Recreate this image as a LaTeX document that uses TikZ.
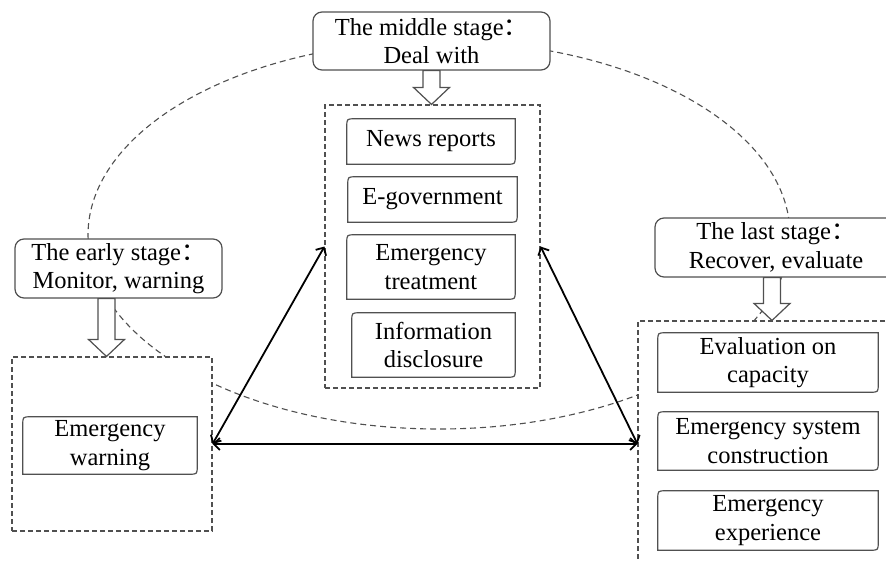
\documentclass[tikz,border=0pt]{standalone}
\usepackage{fontspec}
\setmainfont{Liberation Serif}
\newfontfamily\cjk{Noto Sans CJK SC}
\usetikzlibrary{arrows.meta, calc}

\definecolor{linegray}{HTML}{505050}
\newcommand{\fwcolon}{{\cjk ：}}

\begin{document}
\begin{tikzpicture}[x=1pt, y=-1pt]

\tikzset{txt/.style={align=center, inner sep=0, font=\fontsize{24.5}{28.5}\selectfont}}
\tikzset{stagebox/.style={txt, fill=white, shape=rectangle, draw=linegray, line width=1.2, rounded corners=9pt}}
\tikzset{itembox/.style={txt, fill=white, shape=rectangle}}
\tikzset{itemline/.style={draw=linegray, line width=1.2}}
\tikzset{stagegroup/.style={fill=white, draw=linegray, dash pattern=on 5pt off 3pt, line width=1.1}}
\tikzset{cycleline/.style={draw=linegray, dash pattern=on 6pt off 4pt, line width=1.1}}
\tikzset{twoway/.style={{Straight Barb[length=6pt,width=12pt]}-{Straight Barb[length=6pt,width=12pt]}, line width=1.8, black}}
\tikzset{hollow/.style={fill=white, draw=linegray, line width=1.2,
    to path={let \p1=(\tikztostart), \p2=(\tikztotarget) in
      (\x1-8.5pt,\y1) -- (\x1-8.5pt,\y2+17pt) -- (\x1-18pt,\y2+17pt) -- (\x1,\y2)
      -- (\x1+18pt,\y2+17pt) -- (\x1+8.5pt,\y2+17pt) -- (\x1+8.5pt,\y1) -- cycle}}}

\useasboundingbox (0,0) rectangle (886,562);

% stage cycle
\draw[cycleline] (439,235) ellipse [x radius=351, y radius=194];

\node[stagegroup, minimum width=215, minimum height=283] (midgroup) at (432.5,246.5) {};
\node[stagegroup, minimum width=200, minimum height=174] (earlygroup) at (112,444) {};
\node[stagegroup, minimum width=262, minimum height=259] (lastgroup) at (769,450.5) {};

\node[stagebox, minimum width=237, minimum height=58] (mid) at (431.5,41) {The middle stage\fwcolon\\Deal with};
\node[stagebox, minimum width=207, minimum height=59] (early) at (118.5,268.5) {The early stage\fwcolon\\Monitor, warning};
\node[stagebox, minimum width=242, minimum height=59] (last) at (776,247.5) {The last stage\fwcolon\\Recover, evaluate};

\node[itembox, minimum width=168, minimum height=45] (news) at (431,141.5) {News reports};
\node[itembox, minimum width=169, minimum height=45] (egov) at (432.5,199.5) {E-government};
\node[itembox, minimum width=168, minimum height=64] (treat) at (431,267) {Emergency\\treatment};
\node[itembox, minimum width=163, minimum height=64] (disc) at (433.5,345) {Information\\disclosure};
\node[itembox, minimum width=174, minimum height=57] (warn) at (110,445.5) {Emergency\\warning};
\node[itembox, minimum width=220, minimum height=59] (eval) at (768,362.5) {Evaluation on\\capacity};
\node[itembox, minimum width=220, minimum height=58] (build) at (768,441) {Emergency system\\construction};
\node[itembox, minimum width=220, minimum height=59] (exper) at (768,520.5) {Emergency\\experience};

\foreach \n in {news, egov, treat, disc, warn, eval, build, exper}
  \draw[itemline] ([xshift=8pt]\n.north west) -- (\n.north east) -- ([yshift=8pt]\n.south east)
    .. controls (\n.south east) .. ([xshift=-8pt]\n.south east) -- (\n.south west)
    -- ([yshift=-8pt]\n.north west) .. controls (\n.north west) .. ([xshift=8pt]\n.north west) -- cycle;

\draw[hollow] (mid.south) to (midgroup.north);
\draw[hollow] ([xshift=-12pt]early.south) to (earlygroup.north);
\draw[hollow] ([xshift=-4pt]last.south) to (lastgroup.north);

\draw[twoway] (earlygroup.east) -- (midgroup.west);
\draw[twoway] (midgroup.east) -- (lastgroup.west |- earlygroup.east);
\draw[twoway] (earlygroup.east) -- (lastgroup.west |- earlygroup.east);

\end{tikzpicture}
\end{document}
